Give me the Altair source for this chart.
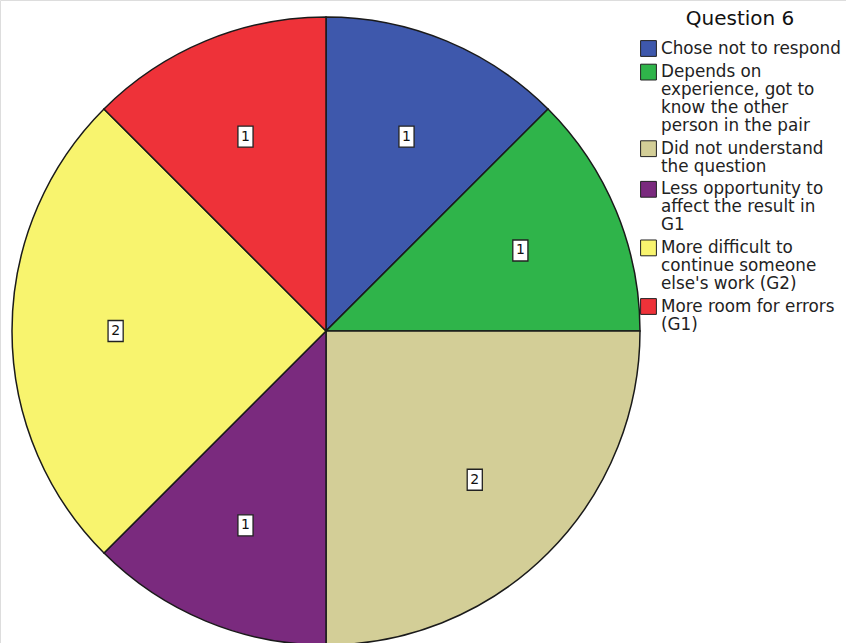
import json
import altair as alt
import pandas as pd

categories = [
    "Chose not to respond",
    "Depends on experience, got to know the other person in the pair",
    "Did not understand the question",
    "Less opportunity to affect the result in G1",
    "More difficult to continue someone else's work (G2)",
    "More room for errors (G1)",
]
counts = [1, 1, 2, 1, 2, 1]
legend_lines = [
    ["Chose not to respond"],
    ["Depends on", "experience, got to", "know the other", "person in the pair"],
    ["Did not understand", "the question"],
    ["Less opportunity to", "affect the result in", "G1"],
    ["More difficult to", "continue someone", "else's work (G2)"],
    ["More room for errors", "(G1)"],
]
colors = ["#3e58ac", "#2fb44a", "#d3ce97", "#7a2a7e", "#f8f46e", "#ee3239"]

df = pd.DataFrame({"category": categories, "count": counts, "order": list(range(len(categories)))})

label_map = json.dumps(dict(zip(categories, legend_lines)))
label_expr = f"{label_map}[datum.label]"

cx, cy, R = 326, 331, 314
label_r = 0.67

color = alt.Color(
    "category:N",
    scale=alt.Scale(domain=categories, range=colors),
    sort=categories,
    legend=alt.Legend(
        title="Question 6",
        orient="none",
        legendX=640,
        legendY=9,
        titleFontSize=20,
        titleFont="DejaVu Sans",
        titleFontWeight="normal",
        titleColor="#111",
        titleAnchor="middle",
        titlePadding=11,
        labelFont="DejaVu Sans",
        labelFontSize=16.8,
        labelColor="#222",
        labelLimit=400,
        labelOffset=4,
        labelExpr=label_expr,
        symbolType="square",
        symbolSize=250,
        symbolStrokeColor="#222",
        symbolStrokeWidth=1,
        symbolOpacity=1,
        rowPadding=2.6,
    ),
)

base = alt.Chart(df)

arcs = base.mark_arc(outerRadius=R, stroke="#1a1a1a", strokeWidth=1.5).encode(
    theta=alt.Theta("count:Q", stack=True),
    color=color,
    order=alt.Order("order:Q"),
    x=alt.value(cx),
    y=alt.value(cy),
)

pos = base.transform_window(
    cum="sum(count)", sort=[alt.SortField("order")], frame=[None, 0]
).transform_joinaggregate(
    total="sum(count)"
).transform_calculate(
    mid="(datum.cum - datum.count/2) / datum.total * 2 * PI",
).transform_calculate(
    px=f"{label_r} * sin(datum.mid)",
    py=f"{label_r} * cos(datum.mid)",
)

xs = alt.X("px:Q", scale=alt.Scale(domain=[-1, 1], range=[cx - R, cx + R]), axis=None)
ys = alt.Y("py:Q", scale=alt.Scale(domain=[-1, 1], range=[cy + R, cy - R]), axis=None)

boxes = pos.mark_point(
    shape="M-0.72,-1L0.72,-1L0.72,1L-0.72,1Z",
    size=441,
    filled=True,
    fill="white",
    stroke="#222",
    strokeWidth=1.3,
    opacity=1,
).encode(x=xs, y=ys)

texts = pos.mark_text(fontSize=14, font="DejaVu Sans", color="#111", baseline="middle", align="center").encode(
    x=xs, y=ys, text="count:Q"
)

chart = alt.layer(arcs, boxes, texts).properties(
    width=846, height=643, autosize=alt.AutoSizeParams(type="none"), padding=0
).configure_view(stroke=None).configure(
    style={"guide-label": {"lineHeight": 18}}
)

chart.save("out.html", embed_options={"renderer": "svg", "actions": False})
